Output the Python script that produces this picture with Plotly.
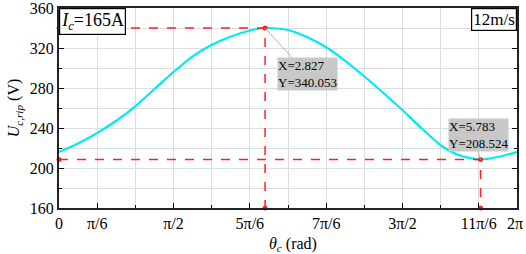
import numpy as np
import plotly.graph_objects as go

PI = np.pi
theta = [0, 0.26, 0.524, 0.79, 1.05, 1.31, 1.57, 1.83, 2.09, 2.36, 2.62, 2.827,
         3.14, 3.40, 3.67, 3.93, 4.19, 4.45, 4.71, 4.97, 5.24, 5.50, 5.783, 6.02, 6.283]
u_rip = [216, 224.5, 235, 247.5, 262, 279, 296, 311.5, 323, 331.5, 337.5, 340.053,
         338, 331, 320.5, 307, 291.5, 275, 258, 240, 222.5, 212.5, 208.524, 211, 216]
peak = (2.827, 340.053)
trough = (5.783, 208.524)
xtick_vals = [0, PI/6, PI/2, 5*PI/6, 7*PI/6, 3*PI/2, 11*PI/6, 2*PI]
xtick_text = ["0", "π/6", "π/2", "5π/6", "7π/6", "3π/2", "11π/6", ""]
ytick_vals = [160, 200, 240, 280, 320, 360]

FONT = "Liberation Serif"
RED = "#ff2020"

fig = go.Figure()
fig.add_trace(go.Scatter(x=theta, y=u_rip, mode="lines",
                         line=dict(color="#00eaf0", width=2.2, shape="spline", smoothing=0.7),
                         showlegend=False, hoverinfo="skip"))
for px, py in [peak, trough]:
    fig.add_trace(go.Scatter(x=[0, px, px], y=[py, py, 160], mode="lines",
                             line=dict(color=RED, width=1.5, dash="dash"),
                             showlegend=False, hoverinfo="skip"))
    fig.add_trace(go.Scatter(x=[0, px, px], y=[py, py, 160], mode="markers",
                             marker=dict(color=RED, size=5), cliponaxis=False,
                             showlegend=False, hoverinfo="skip"))

# leader lines
fig.add_shape(type="line", x0=peak[0], y0=peak[1], x1=3.19, y1=311,
              line=dict(color="#b0b0b0", width=1))
fig.add_shape(type="line", x0=trough[0], y0=trough[1], x1=5.73, y1=221,
              line=dict(color="#b0b0b0", width=1))
fig.add_annotation(x=2.99, y=311, xanchor="left", yanchor="top", showarrow=False,
                   text=f"X={peak[0]:.3f}<br>Y={peak[1]:.3f}", align="left",
                   bgcolor="#c8c8c8", font=dict(family=FONT, size=13, color="black"),
                   borderpad=0)
fig.add_annotation(x=5.34, y=250, xanchor="left", yanchor="top", showarrow=False,
                   text=f"X={trough[0]:.3f}<br>Y={trough[1]:.3f}", align="left",
                   bgcolor="#c8c8c8", font=dict(family=FONT, size=13, color="black"),
                   borderpad=0)
fig.add_annotation(xref="paper", yref="paper", x=0, y=1, xanchor="left", yanchor="top",
                   showarrow=False, text="<i>I</i><sub><i>c</i></sub>=165A",
                   font=dict(family=FONT, size=18, color="black"),
                   bgcolor="white", bordercolor="black", borderwidth=1.2, borderpad=1)
fig.add_annotation(xref="paper", yref="paper", x=1, y=1, xanchor="right", yanchor="top",
                   showarrow=False, text="12m/s",
                   font=dict(family=FONT, size=17, color="black"),
                   bgcolor="white", bordercolor="black", borderwidth=1.2, borderpad=1)
# last x tick label and x title
fig.add_annotation(x=2*PI, xref="x", y=0, yref="paper", yanchor="top", yshift=-5,
                   xshift=-2, showarrow=False, text="2π",
                   font=dict(family=FONT, size=16, color="black"))
fig.add_annotation(x=0.51, xref="paper", y=0, yref="paper", yanchor="top", yshift=-25,
                   showarrow=False, text="<i>θ</i><sub><i>c</i></sub> (rad)",
                   font=dict(family=FONT, size=16, color="black"))

fig.update_layout(
    width=526, height=254, margin=dict(l=59, r=9, t=8, b=46),
    paper_bgcolor="white", plot_bgcolor="white",
    font=dict(family=FONT, size=16, color="black"),
    xaxis=dict(range=[0, 2*PI], tickvals=xtick_vals, ticktext=xtick_text,
               automargin=False,
               showgrid=True, gridcolor="#dddddd", gridwidth=1,
               ticks="inside", ticklen=5, tickcolor="black", tickwidth=1.2,
               showline=True, linecolor="#222", linewidth=2, mirror=True,
               zeroline=False,
               minor=dict(dtick=PI/6, tick0=0, showgrid=True, gridcolor="#dddddd",
                          ticks="inside", ticklen=3, tickcolor="black")),
    yaxis=dict(range=[160, 360.05], tickvals=ytick_vals, automargin=False,
               ticklabeloverflow="allow",
               showgrid=True, gridcolor="#dddddd", gridwidth=1,
               ticks="inside", ticklen=5, tickcolor="black", tickwidth=1.2,
               showline=True, linecolor="#222", linewidth=2, mirror="ticks",
               zeroline=False,
               minor=dict(dtick=20, tick0=0, showgrid=True, gridcolor="#dddddd",
                          ticks="inside", ticklen=3, tickcolor="black"),
               title=dict(text="<i>U</i><sub><i>c,rip</i></sub> (V)", standoff=6,
                          font=dict(family=FONT, size=16))),
)
fig.write_html("out.html", config={"displayModeBar": False},
               post_script="document.body.style.margin='0';document.body.style.overflow='hidden';")
